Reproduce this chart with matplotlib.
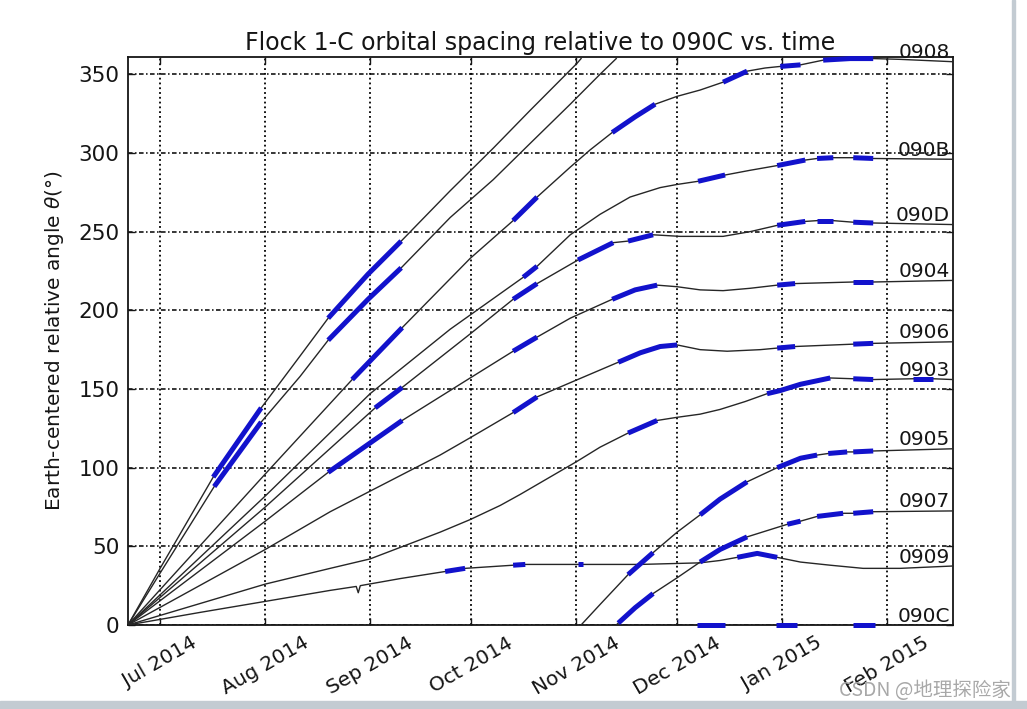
import numpy as np
import matplotlib
matplotlib.use("Agg")
import matplotlib.pyplot as plt
import matplotlib.dates as mdates
from matplotlib.patches import Rectangle

# ---------------- data (day offsets from 2014-07-01, angle in degrees) ----------------
BASE_DATE = np.datetime64("2014-07-01T00:00")
X_START_DAY = -9.5
X_END_DAY = 234.5
Y_MAX = 361
y_ticks = [0, 50, 100, 150, 200, 250, 300, 350]

days_0905 = [-9.5, 0, 15.7, 29.9, 41.4, 49.7, 61.5, 71.3, 85.8, 98.5, 109.4, 123.3, 124.5,
             124.5, 124.5, 130.1, 138.4, 145.8, 152.9, 159.7, 165.6, 173.6, 182.5, 189.4,
             194.3, 197.6, 203.2, 205.0, 210.9, 234.5]
angle_0905 = [0, 36, 94, 138, 171, 195, 223, 244, 276, 303, 327, 357, 360,
              np.nan, 0, 13, 32, 46, 59, 70, 80, 91, 100, 106,
              108, 109, 110, 110, 110.6, 112]
blue_0905 = [(15.7, 29.9), (49.7, 71.3), (138.4, 145.8), (159.7, 173.6),
             (182.5, 194.3), (197.6, 203.2), (205.0, 210.9)]

days_0907 = [-9.5, 0, 16.0, 29.9, 41.4, 49.7, 61.5, 71.3, 85.8, 98.5, 109.4, 121.3, 130.1, 134.9,
             134.9, 134.9, 135.5, 140.5, 145.8, 152.9, 159.7, 165.6, 173.6, 182.5, 185.5, 189.4,
             194.3, 202.0, 205.0, 210.9, 234.5]
angle_0907 = [0, 33, 88, 129, 158, 181, 207, 227, 259, 283, 306, 331, 350, 360,
              np.nan, 0, 1.2, 11, 20, 30, 40, 48, 56, 62, 64, 66,
              69, 71, 71, 72, 72.5]
blue_0907 = [(16.0, 29.9), (49.7, 71.3), (135.5, 145.8), (159.7, 173.6),
             (185.5, 189.4), (194.3, 202.0), (205.0, 210.9)]

days_0908 = [-9.5, 31.1, 56.8, 71.6, 91.7, 104.4, 111.5, 121.3, 127.2, 133.7, 140.5, 146.4,
             152.9, 159.7, 166.5, 173.6, 178.9, 183.4, 189.4, 196.1, 204.1, 210.9, 218.9, 234.5]
angle_0908 = [0, 96, 156, 189, 233, 257, 272, 291, 302, 313, 323, 331,
              336, 340, 345, 352, 354, 355, 356, 359, 360, 360, 359.5, 358]
blue_0908 = [(56.8, 71.6), (104.4, 111.5), (133.7, 146.4), (166.5, 173.6),
             (183.4, 189.4), (196.1, 210.9)]

days_090B = [-9.5, 31.1, 62.1, 85.8, 107.4, 111.5, 121.3, 130.1, 139.0, 147.9, 152.9, 159.1,
             167.1, 174.5, 182.5, 190.8, 194.3, 199.1, 205.0, 210.9, 234.5]
angle_090B = [0, 82, 147, 188, 221, 228, 248, 261, 272, 278, 280, 282,
              286, 289, 292, 295.5, 296.5, 297, 297, 296.5, 296]
blue_090B = [(107.4, 111.5), (159.1, 167.1), (182.5, 190.8), (194.3, 199.1), (205.0, 210.9)]

days_090D = [-9.5, 31.1, 63.6, 71.6, 91.7, 104.4, 111.5, 123.6, 134.0, 138.4, 145.8, 153.8,
             166.5, 174.5, 182.5, 190.8, 194.3, 199.1, 205.0, 210.9, 234.5]
angle_090D = [0, 75, 138, 151, 185, 207, 217, 232, 243, 244, 248, 247,
              247, 250, 254, 256.5, 257, 257, 256, 255.5, 254.5]
blue_090D = [(63.6, 71.6), (104.4, 111.5), (123.6, 134.0), (138.4, 145.8),
             (182.5, 190.8), (194.3, 199.1), (205.0, 210.9)]

days_0904 = [-9.5, 31.1, 49.7, 71.6, 91.7, 104.4, 111.5, 121.3, 133.7, 140.5, 147.0, 152.9,
             159.7, 166.5, 174.5, 182.5, 187.8, 205.0, 210.9, 234.5]
angle_0904 = [0, 66, 97, 130, 157, 174, 183, 195, 207, 213, 216, 215,
              213, 212.5, 214, 216, 217, 218, 218, 219]
blue_0904 = [(49.7, 71.6), (104.4, 111.5), (133.7, 147.0), (182.5, 187.8), (205.0, 210.9)]

days_0906 = [-9.5, 31.1, 50.3, 82.8, 91.7, 104.4, 111.5, 121.3, 135.5, 142.0, 147.9, 152.9,
             159.7, 167.7, 177.5, 182.5, 187.8, 205.0, 210.9, 234.5]
angle_0906 = [0, 48, 72, 108, 119, 135, 145, 154, 167, 173, 177, 178,
              175, 174, 175, 176, 177, 178.5, 179, 180]
blue_0906 = [(104.4, 111.5), (135.5, 152.9), (182.5, 187.8), (205.0, 210.9)]

days_0903 = [-9.5, 31.1, 50.3, 62.1, 82.8, 91.7, 100.6, 106.5, 123.3, 130.1, 138.4, 147.0,
             152.9, 159.7, 165.6, 173.0, 179.5, 183.4, 189.4, 198.2, 205.0, 210.9, 222.7,
             228.6, 234.5]
angle_0903 = [0, 26, 36, 42, 59, 67, 76, 83, 104, 113, 122, 130,
              132, 134, 137, 142, 147, 149, 153, 157, 156.5, 156, 156.5,
              156.5, 156]
blue_0903 = [(138.4, 147.0), (179.5, 198.2), (205.0, 210.9), (222.7, 228.6)]

days_0909 = [-9.5, 11.8, 31.1, 50.3, 58.0, 58.6, 59.2, 71.0, 84.3, 90.2, 104.4, 108.0,
             123.6, 125.1, 142.0, 159.7, 165.6, 170.7, 176.6, 182.5, 189.4, 198.2, 207.9,
             218.9, 234.5]
angle_0909 = [0, 8, 15, 22, 24.5, 20.5, 25, 29.5, 34, 36, 38, 38.5,
              38.5, 38.5, 38.5, 39.5, 41, 43, 45.5, 43, 40, 38, 36,
              36, 37.5]
blue_0909 = [(84.3, 90.2), (104.4, 108.0), (123.6, 125.1), (170.7, 182.5)]

days_090C = [-9.5, 158.8, 167.1, 182.2, 188.4, 205.0, 211.5, 234.5]
angle_090C = [0, 0, 0, 0, 0, 0, 0, 0]
blue_090C = [(158.8, 167.1), (182.2, 188.4), (205.0, 211.5)]

satellites = [
    ("0908", days_0908, angle_0908, blue_0908),
    ("090B", days_090B, angle_090B, blue_090B),
    ("090D", days_090D, angle_090D, blue_090D),
    ("0904", days_0904, angle_0904, blue_0904),
    ("0906", days_0906, angle_0906, blue_0906),
    ("0903", days_0903, angle_0903, blue_0903),
    ("0905", days_0905, angle_0905, blue_0905),
    ("0907", days_0907, angle_0907, blue_0907),
    ("0909", days_0909, angle_0909, blue_0909),
    ("090C", days_090C, angle_090C, blue_090C),
]

title = "Flock 1-C orbital spacing relative to 090C vs. time"
ylabel = "Earth-centered relative angle $\\theta$(°)"


def to_dates(days):
    d = np.asarray(days, dtype=float)
    return BASE_DATE + np.round(d * 86400).astype("timedelta64[s]")


# ---------------- figure ----------------
plt.rcParams["font.family"] = ["DejaVu Sans"]
fig = plt.figure(figsize=(10.27, 7.09), dpi=100)
fig.patch.set_facecolor("white")
ax = fig.add_axes([128 / 1027, 84 / 709, 825 / 1027, 568 / 709])

BLACK = "#262626"
BLUE = "#1212cc"
TXT = "#151515"

for name, days, angles, blues in satellites:
    d = np.asarray(days, dtype=float)
    a = np.asarray(angles, dtype=float)
    dates = to_dates(d)
    ax.plot(dates, a, color=BLACK, lw=1.0, zorder=3)
    for s, e in blues:
        m = (d >= s) & (d <= e)
        ax.plot(dates[m], a[m], color=BLUE, lw=3.6, zorder=4,
                solid_capstyle="butt", clip_on=False)
    ax.annotate(name, xy=(dates[-1], a[-1]), xytext=(-2, 2.5),
                textcoords="offset points", ha="right", va="baseline",
                fontsize=14.5, color=TXT, zorder=6, annotation_clip=False)

ax.set_xlim(to_dates([X_START_DAY])[0], to_dates([X_END_DAY])[0])
ax.set_ylim(0, Y_MAX)
ax.set_yticks(y_ticks)

ax.xaxis.set_major_locator(mdates.MonthLocator())
ax.xaxis.set_major_formatter(mdates.DateFormatter("%b %Y"))

ax.tick_params(axis="both", direction="in", length=5, width=1,
               top=True, right=True, colors=TXT)
ax.tick_params(axis="x", pad=6, labelsize=14.5)
ax.tick_params(axis="y", pad=6, labelsize=15.5)
for lbl in ax.get_xticklabels():
    lbl.set_rotation(30)
    lbl.set_ha("center")

ax.yaxis.grid(True, color="k", linestyle=(0, (3, 1.6, 1, 1.6)), lw=1.1, zorder=1)
ax.xaxis.grid(True, color="k", linestyle=":", lw=1.3, zorder=1)
ax.set_axisbelow(True)

for sp in ax.spines.values():
    sp.set_linewidth(1.3)
    sp.set_color(TXT)

ax.set_title(title, fontsize=17, pad=5, color=TXT)
ax.set_ylabel(ylabel, fontsize=14.5, labelpad=9, color=TXT)

# screenshot frame and watermark
fig.patches.append(Rectangle((0, 0), 1, 8 / 709, transform=fig.transFigure,
                             color="#c3cbd2", zorder=0))
fig.patches.append(Rectangle((1012 / 1027, 0), 3 / 1027, 1, transform=fig.transFigure,
                             color="#c3cbd2", zorder=0))
fig.text(1011 / 1027, 19 / 709, "CSDN @地理探险家", ha="right", va="center",
         fontsize=14, color="#a8a8a8",
         family=["Noto Sans CJK SC", "DejaVu Sans"], zorder=10)

fig.savefig("out.png", dpi=100, facecolor="white")
